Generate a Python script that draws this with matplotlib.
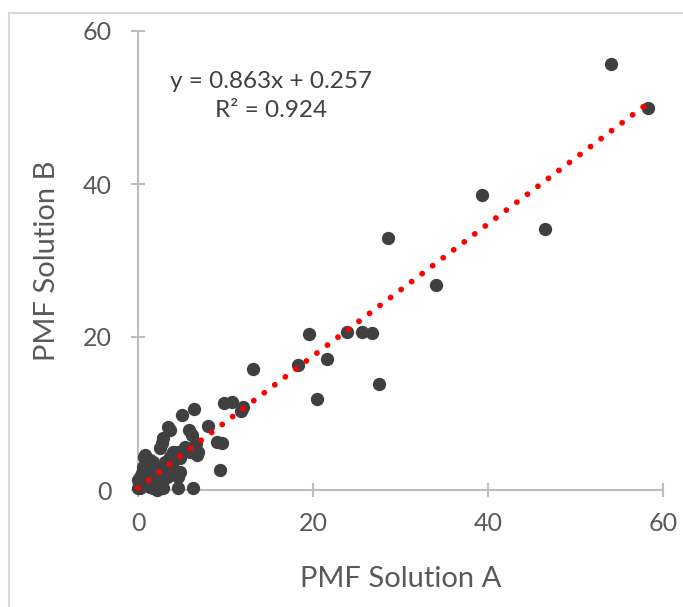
import matplotlib
matplotlib.use('Agg')

import numpy as np
import matplotlib.pyplot as plt
from matplotlib.patches import Rectangle

# PMF solution A vs B
sol_a = [54.1, 58.3, 39.3, 46.5, 34.1, 28.6, 27.5, 26.7, 25.6, 23.9,
         19.5, 21.6, 18.3, 20.5, 13.1, 11.8, 12.0, 10.7, 9.8, 6.4,
         5.0, 8.0, 5.8, 6.2, 3.4, 3.6, 2.9, 2.7, 2.5, 9.0,
         9.6, 6.6, 6.9, 6.7, 4.6, 4.8, 4.0, 5.9, 5.4, 3.7,
         0.7, 0.8, 1.4, 1.7, 1.6, 1.8, 0.6, 3.7, 2.9, 9.4,
         4.8, 4.6, 3.3, 2.7, 0.2, 0.0, 0.8, 2.2, 1.7, 2.5,
         1.4, 4.6, 6.3, 0.2, 1.7, 2.9, 2.2, 0.0, 0.5, 1.2,
         3.1, 2.0, 1.0, 3.9]
sol_b = [55.7, 49.9, 38.6, 34.1, 26.8, 32.9, 13.8, 20.5, 20.6, 20.6,
         20.4, 17.1, 16.3, 11.9, 15.8, 10.3, 10.9, 11.5, 11.4, 10.6,
         9.8, 8.4, 7.8, 7.2, 8.2, 7.8, 6.8, 6.1, 5.5, 6.3,
         6.2, 6.1, 5.0, 4.6, 5.0, 4.2, 5.0, 5.0, 5.6, 4.3,
         4.3, 4.6, 3.9, 3.7, 3.3, 3.0, 3.0, 2.9, 2.6, 2.6,
         2.4, 1.7, 1.7, 0.9, 1.7, 1.3, 0.9, 1.3, 1.3, 0.9,
         0.4, 0.2, 0.2, 0.2, 0.2, 0.2, 0.0, 0.2, 2.2, 2.0,
         3.6, 2.4, 1.9, 3.4]

slope = 0.863
intercept = 0.257
r2 = 0.924

x_ticks = [0, 20, 40, 60]
y_ticks = [0, 20, 40, 60]

plt.rcParams['font.family'] = ['Lato', 'DejaVu Sans']

fig = plt.figure(figsize=(6.83, 6.07), dpi=100)
ax = fig.add_axes([138 / 683, 117 / 607, 525 / 683, 459 / 607])

# chart area border like in Excel
fig.patches.append(Rectangle((9 / 683, -0.1), 1.2, (607 - 13) / 607 + 0.1,
                             transform=fig.transFigure, fill=False,
                             edgecolor='#D9D9D9', linewidth=1.5))

ax.scatter(sol_a, sol_b, s=92, color='#404040', zorder=2, linewidths=0,
           clip_on=False)

xs = np.array([min(sol_a), max(sol_a)])
ax.plot(xs, slope * xs + intercept, color='red', linewidth=4.2,
        linestyle=(0, (0.01, 2.25)), dash_capstyle='round', zorder=3,
        clip_on=False)

ax.set_xlim(0, 60)
ax.set_ylim(0, 60)
ax.set_xticks(x_ticks)
ax.set_yticks(y_ticks)
for s in ['top', 'right']:
    ax.spines[s].set_visible(False)
for s in ['left', 'bottom']:
    ax.spines[s].set_color('#BFBFBF')
    ax.spines[s].set_linewidth(1.5)
    ax.spines[s].set_zorder(1)
ax.tick_params(direction='inout', length=10, width=1.5, color='#BFBFBF',
               labelcolor='#595959', labelsize=18, pad=11)
ax.tick_params(axis='y', pad=14)

ax.set_xlabel('PMF Solution A', fontsize=21, color='#595959', labelpad=22)
ax.set_ylabel('PMF Solution B', fontsize=21, color='#595959', labelpad=16)

ax.text(15.2, 51.5, f'y = {slope}x + {intercept}\nR² = {r2}', ha='center',
        va='center', fontsize=17.5, color='#404040', linespacing=1.45)

fig.savefig('out.png', dpi=100)
